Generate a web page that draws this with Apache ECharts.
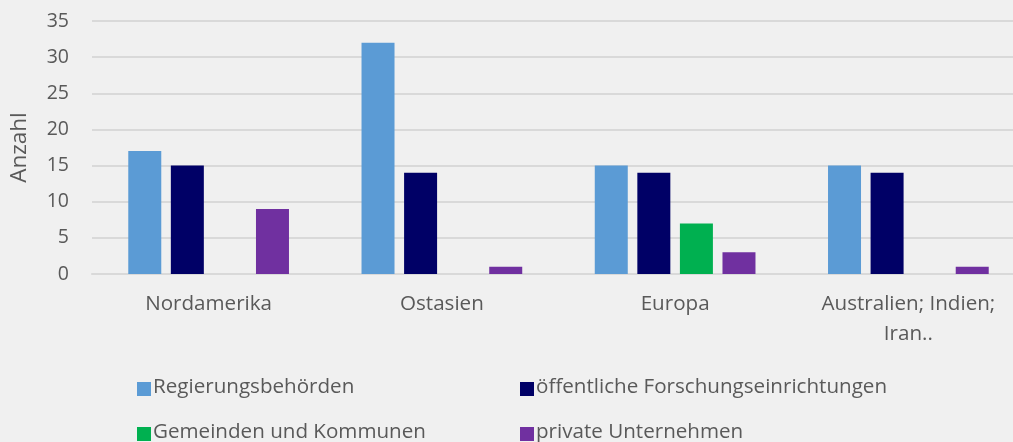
<!DOCTYPE html>
<html>
<head>
<meta charset="utf-8">
<script src="https://cdn.jsdelivr.net/npm/echarts@6/dist/echarts.min.js"></script>
<style>
html,body{margin:0;padding:0;background:#f0f0f0;overflow:hidden;}
#chart{width:1025px;height:442px;}
</style>
</head>
<body>
<div id="chart"></div>
<script>
const categories = ['Nordamerika', 'Ostasien', 'Europa', 'Australien; Indien;\nIran..'];
const seriesNames = ['Regierungsbehörden', 'öffentliche Forschungseinrichtungen', 'Gemeinden und Kommunen', 'private Unternehmen'];
const regierung = [17, 32, 15, 15];
const forschung = [15, 14, 14, 14];
const gemeinden = [0, 0, 7, 0];
const privat = [9, 1, 3, 1];
const yTicks = {min: 0, max: 35, interval: 5};
const colors = ['#5b9bd5', '#000066', '#00b050', '#7030a0'];

const values = [regierung, forschung, gemeinden, privat];
const font = '"Open Sans", sans-serif';
const txt = '#595959';

const chart = echarts.init(document.getElementById('chart'), null, {renderer: 'canvas'});
const legendPos = [[137, 377], [520, 377], [137, 422], [520, 422]];
chart.setOption({
  backgroundColor: '#f0f0f0',
  animation: false,
  grid: {left: 89, right: 0, top: 21, bottom: 168, containLabel: false},
  xAxis: {
    type: 'category',
    data: categories,
    axisLine: {show: true, lineStyle: {color: '#d9d9d9', width: 2}},
    axisTick: {show: false},
    axisLabel: {color: txt, fontFamily: font, fontSize: 20.6, margin: 15, lineHeight: 30}
  },
  yAxis: {
    type: 'value',
    min: yTicks.min, max: yTicks.max, interval: yTicks.interval,
    name: 'Anzahl',
    nameLocation: 'middle',
    nameGap: 61,
    nameTextStyle: {color: txt, fontFamily: font, fontSize: 22.5},
    axisLine: {show: false},
    axisTick: {show: false},
    axisLabel: {color: txt, fontFamily: font, fontSize: 19.5, margin: 23},
    splitLine: {lineStyle: {color: '#d9d9d9', width: 2}}
  },
  legend: seriesNames.map((n, i) => ({
    data: [n],
    left: legendPos[i][0],
    top: legendPos[i][1],
    orient: 'horizontal',
    itemWidth: 14, itemHeight: 14, itemGap: 5,
    icon: 'rect',
    formatter: name => '{t|' + name + '}',
    textStyle: {
      rich: {t: {color: txt, fontFamily: font, fontSize: 20.6, lineHeight: 20, padding: [0, 0, 3, -3]}}
    },
    padding: 0
  })),
  series: seriesNames.map((n, i) => ({
    name: n,
    type: 'bar',
    data: values[i],
    barWidth: 33,
    barGap: '29%',
    itemStyle: {color: colors[i]}
  }))
});
</script>
</body>
</html>
